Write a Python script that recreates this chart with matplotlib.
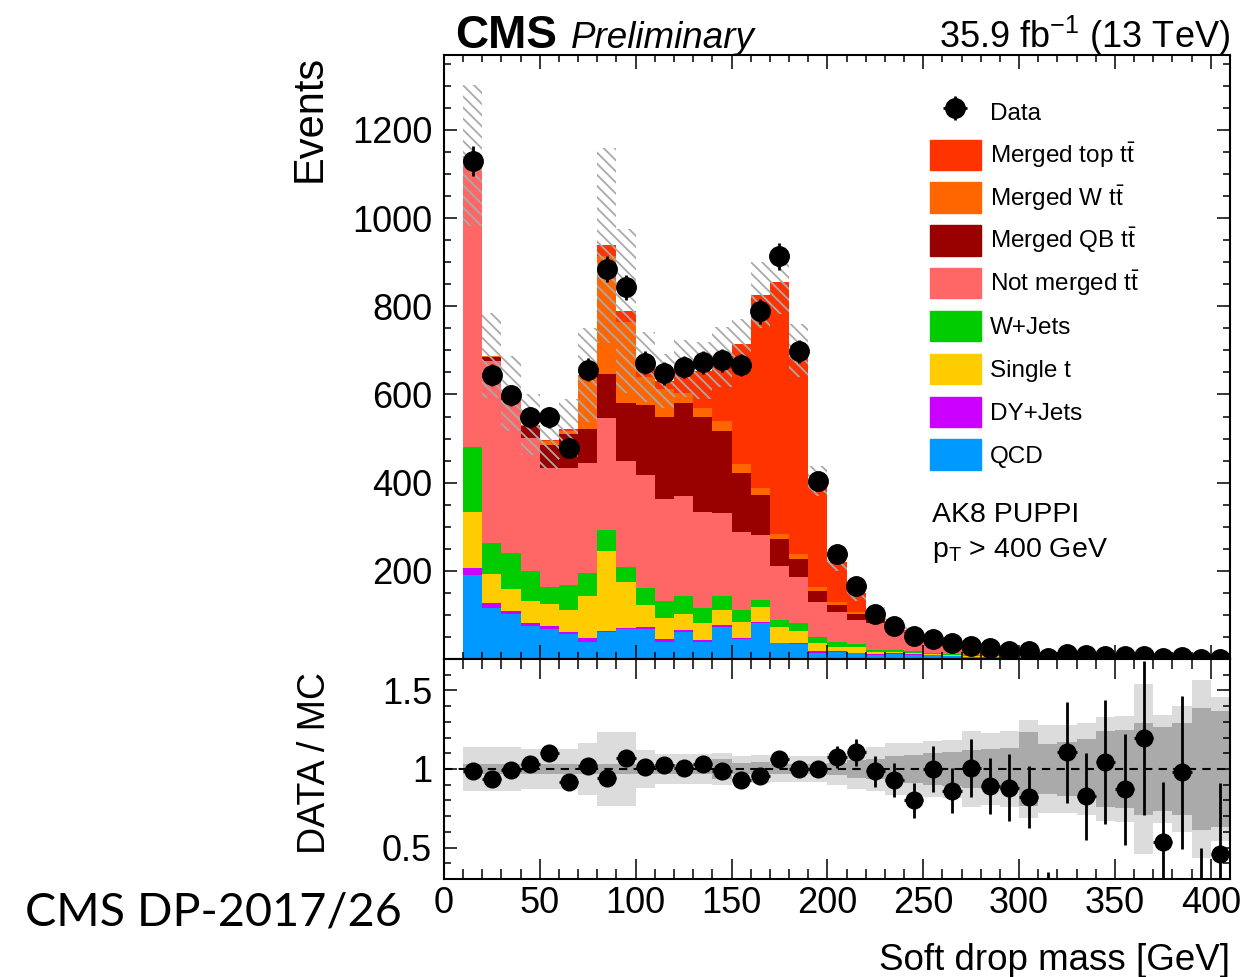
import numpy as np
import matplotlib
matplotlib.use("Agg")
import matplotlib.pyplot as plt
from matplotlib.patches import Patch

plt.rcParams["font.family"] = ["Liberation Sans", "DejaVu Sans"]
plt.rcParams["mathtext.fontset"] = "custom"
plt.rcParams["mathtext.rm"] = "Liberation Sans"
plt.rcParams["mathtext.it"] = "Liberation Sans:italic"
plt.rcParams["mathtext.bf"] = "Liberation Sans:bold"
plt.rcParams["hatch.linewidth"] = 1.3

# soft drop mass bins, 10 GeV wide from 10 to 410 GeV
edges = np.arange(10, 411, 10)
centers = 0.5 * (edges[1:] + edges[:-1])

qcd = [190, 116, 101, 75, 69, 56, 38, 62, 67, 68, 38, 62, 38, 73, 45, 82, 36, 34, 14, 15,
       13, 10, 12, 10, 8, 7, 5, 5, 4, 4, 2, 2, 2.5, 1.5, 1.5, 1.0, 0.8, 0.9, 0.9, 0.5]
dyjets = [16, 11, 8, 7, 6, 6, 9, 2, 3, 4, 7, 3, 5, 3, 2, 1, 1, 3, 3, 2,
          1, 0.5, 0.5, 0.5, 0.5, 0.3, 0.3, 0.2, 0.2, 0.2, 0.1, 0.1, 0.1, 0.1, 0.1, 0.05, 0.05, 0.05, 0.05, 0.03]
single_t = [127, 65, 49, 49, 50, 50, 97, 180, 104, 50, 47, 38, 39, 35, 38, 35, 36, 27, 20, 11,
            13, 6, 4, 4, 3, 2, 2, 1.5, 1.5, 1.5, 0.8, 1, 0.8, 0.6, 0.6, 0.5, 0.4, 0.4, 0.4, 0.2]
wjets = [148, 72, 82, 68, 39, 55, 52, 48, 35, 40, 40, 41, 34, 31, 26, 16, 16, 17, 12, 11,
         7, 4, 3, 3, 2, 2, 1.5, 1.5, 1, 1, 0.6, 0.8, 0.7, 0.5, 0.5, 0.4, 0.3, 0.3, 0.3, 0.2]
not_merged = [661, 411, 348, 303, 269, 266, 248, 255, 241, 256, 232, 226, 217, 189, 176, 147, 123, 106, 81, 67,
              55, 62, 50, 42, 29, 27, 18, 18, 11.6, 13, 6.1, 6.5, 6.5, 3.8, 4.0, 2.9, 2.08, 2.34, 2.25, 1.2]
merged_qb = [0, 10, 12, 26, 52, 78, 77, 100, 130, 158, 184, 210, 215, 187, 136, 91, 60, 40, 25, 17,
             13, 8, 4, 2, 1, 1, 0.5, 0.5, 0.3, 0.5, 0.2, 0.2, 0.1, 0.1, 0.1, 0.05, 0.05, 0.05, 0.05, 0.03]
merged_w = [0, 2, 2, 2, 10, 6, 124, 267, 184, 63, 65, 24, 22, 21, 20, 15, 11, 12, 8, 6,
            4, 3, 2, 1, 0.5, 0.5, 0.5, 0.3, 0.2, 0.2, 0.1, 0.1, 0.1, 0.05, 0.05, 0.05, 0.03, 0.03, 0.03, 0.02]
merged_top = [0, 1, 0, 1, 1, 5, 0, 24, 25, 24, 17, 54, 84, 146, 272, 439, 573, 461, 241, 92,
              44, 10, 5, 2.5, 2, 2, 1, 1, 0.5, 0.3, 0.1, 0.15, 0.1, 0.05, 0.05, 0.05, 0.02, 0.02, 0.02, 0.01]
data = [1130, 644, 598, 548, 548, 479, 656, 884, 843, 672, 648, 662, 673, 678, 667, 789, 913, 698, 404, 238,
        166, 102, 75, 52, 46, 36, 29, 25, 17, 17, 2, 12, 9, 7, 6, 6, 2, 4, 1, 1]

# relative uncertainties: total (light band / hatch) and stat (dark band)
unc_total = [0.14, 0.14, 0.14, 0.13, 0.13, 0.13, 0.165, 0.235, 0.235, 0.12, 0.098, 0.098, 0.098, 0.10, 0.08,
             0.09, 0.085, 0.085, 0.085, 0.10, 0.13, 0.14, 0.165, 0.165, 0.18, 0.185, 0.24, 0.23, 0.24, 0.31,
             0.28, 0.28, 0.29, 0.33, 0.335, 0.54, 0.345, 0.40, 0.565, 0.46]
unc_stat = [0.033, 0.033, 0.033, 0.033, 0.033, 0.033, 0.033, 0.033, 0.033, 0.033, 0.033, 0.033, 0.033, 0.066,
            0.035, 0.043, 0.03, 0.03, 0.03, 0.04, 0.06, 0.065, 0.08, 0.09, 0.10, 0.11, 0.12, 0.13, 0.135,
            0.237, 0.16, 0.17, 0.19, 0.24, 0.245, 0.29, 0.27, 0.29, 0.39, 0.37]

samples = [
    ("QCD", qcd, "#0099ff"),
    ("DY+Jets", dyjets, "#cc00ff"),
    ("Single t", single_t, "#ffcc00"),
    ("W+Jets", wjets, "#00cc00"),
    (r"Not merged $\mathrm{t\bar{t}}$", not_merged, "#ff6666"),
    (r"Merged QB $\mathrm{t\bar{t}}$", merged_qb, "#990000"),
    (r"Merged W $\mathrm{t\bar{t}}$", merged_w, "#ff6600"),
    (r"Merged top $\mathrm{t\bar{t}}$", merged_top, "#ff3300"),
]

fig = plt.figure(figsize=(12.58, 9.77), dpi=100)
ax = fig.add_axes([0.3529, 0.3255, 0.6248, 0.6182])
axr = fig.add_axes([0.3529, 0.1003, 0.6248, 0.2252])

bottom = np.zeros(len(centers))
for name, vals, col in samples:
    top = bottom + np.array(vals)
    ax.stairs(top, edges, baseline=bottom, fill=True, color=col, lw=0)
    bottom = top
mc = bottom

d = np.array(data, dtype=float)
rel = np.array(unc_total)
ax.stairs(mc * (1 + rel), edges, baseline=mc * (1 - rel), fill=True,
          facecolor="none", edgecolor="#aaaaaa", hatch="\\\\\\", lw=0, zorder=3)
eb = ax.errorbar(centers, d, yerr=np.sqrt(d), xerr=5, fmt="o", color="black",
                 ms=14, lw=2, capsize=0, zorder=5)

ax.set_xlim(0, 410)
ax.set_ylim(0, 1370)
ax.set_yticks([200, 400, 600, 800, 1000, 1200])
ax.set_yticks(np.arange(50, 1370, 50), minor=True)
ax.set_xticks(np.arange(0, 411, 50))
ax.set_xticks(np.arange(0, 411, 10), minor=True)
ax.tick_params(axis="x", labelbottom=False)

handles = [eb] + [Patch(color=c) for _, _, c in samples[::-1]]
labels = ["Data"] + [n for n, _, _ in samples[::-1]]
ax.legend(handles, labels, loc="upper left", bbox_to_anchor=(0.618, 0.931), frameon=False,
          fontsize=17.5, handlelength=2.1, handleheight=1.55, handletextpad=0.38,
          labelspacing=0.51, borderpad=0, borderaxespad=0)

ax.text(0.621, 0.227, "AK8 PUPPI", transform=ax.transAxes, fontsize=20.5, va="baseline")
ax.text(0.621, 0.169, r"p$_\mathrm{T}$ > 400 GeV", transform=ax.transAxes, fontsize=20.5, va="baseline")

ax.text(0.014, 1.012, "CMS", transform=ax.transAxes, fontsize=33, fontweight="bold", va="baseline")
ax.text(0.1616, 1.012, "Preliminary", transform=ax.transAxes, fontsize=26.5, style="italic", va="baseline")
ax.text(1.0, 1.012, r"35.9 fb$^{-1}$ (13 TeV)", transform=ax.transAxes, fontsize=26,
        ha="right", va="baseline")

# ratio panel
ratio = d / mc
rstat = np.array(unc_stat)
axr.stairs(1 + rel, edges, baseline=1 - rel, fill=True, color="#dcdcdc", lw=0)
axr.stairs(1 + rstat, edges, baseline=1 - rstat, fill=True, color="#aaaaaa", lw=0)
axr.axhline(1, color="black", ls=(0, (4, 3)), lw=1.5)
axr.errorbar(centers, ratio, yerr=np.sqrt(d) / mc, xerr=5, fmt="o", color="black",
             ms=12, lw=2, capsize=0, zorder=5)
axr.set_xlim(0, 410)
axr.set_ylim(0.3, 1.7)
axr.set_yticks([0.5, 1.0, 1.5])
axr.set_yticklabels(["0.5", "1", "1.5"])
axr.set_yticks(np.arange(0.3, 1.71, 0.1), minor=True)
axr.set_xticks(np.arange(0, 411, 50))
axr.set_xticks(np.arange(0, 411, 10), minor=True)

for a in (ax, axr):
    for s in a.spines.values():
        s.set_linewidth(1.5)
    a.tick_params(which="both", direction="in", top=True, right=True, width=1.1, labelsize=26)
    a.tick_params(axis="y", which="major", length=9.4, pad=8.5)
    a.tick_params(axis="y", which="minor", length=5)
ax.tick_params(axis="x", which="major", length=10)
ax.tick_params(axis="x", which="minor", length=5)
axr.tick_params(axis="x", which="major", length=14.4, pad=5)
axr.tick_params(axis="x", which="minor", length=7.2)

fig.text(310 / 1258, 1 - 55 / 977, "Events", rotation=90, ha="center", va="top", fontsize=30)
fig.text(315 / 1258, 1 - 672 / 977, "DATA / MC", rotation=90, ha="center", va="top", fontsize=27)
fig.text(1230 / 1258, 1 - 970 / 977, "Soft drop mass [GeV]", ha="right", va="baseline", fontsize=26.5)
fig.text(25 / 1258, 1 - 913 / 977, "CMS DP-2017/26", ha="left", va="center", fontsize=33.7,
         family=["Lato", "DejaVu Sans"])

fig.savefig("out.png", dpi=100)
